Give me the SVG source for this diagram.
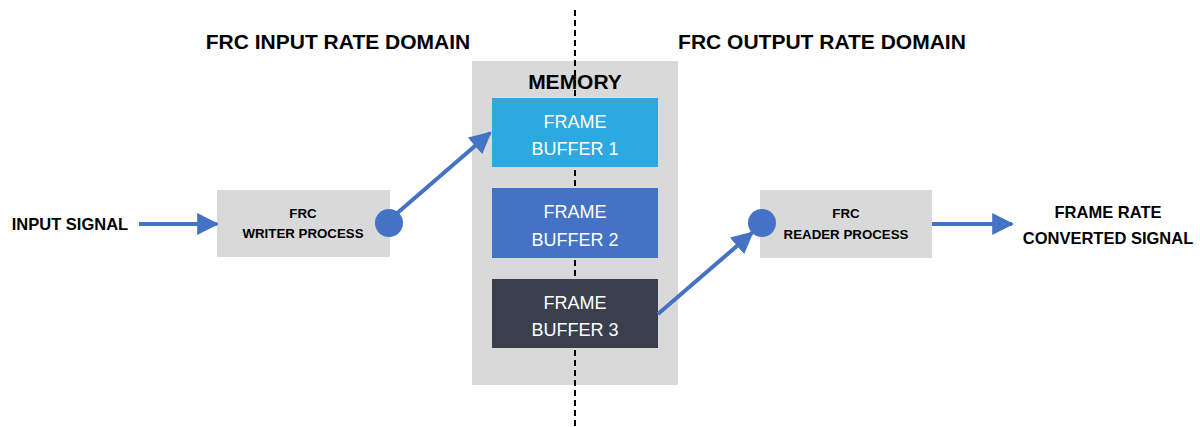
<svg xmlns="http://www.w3.org/2000/svg" width="1200" height="427" viewBox="0 0 1200 427">
<style>
.hdr{font-family:"Liberation Sans",Arial,sans-serif;font-weight:bold;font-size:21px;fill:#000;text-anchor:middle}
.lbl{font-family:"Liberation Sans",Arial,sans-serif;font-weight:bold;font-size:16.5px;fill:#000;text-anchor:middle}
.sm{font-family:"Liberation Sans",Arial,sans-serif;font-weight:bold;font-size:13.3px;fill:#000;text-anchor:middle}
.fb{font-family:"Liberation Sans",Arial,sans-serif;font-size:18px;fill:#fff;text-anchor:middle}
.gray{fill:#D9D9D9}
.conn{stroke:#4472C4;stroke-width:4;fill:none}
</style>
<defs>
<marker id="ah" viewBox="0 0 10 10" refX="9" refY="5" markerWidth="5.5" markerHeight="5.5" orient="auto" markerUnits="strokeWidth">
<path d="M0,0 L10,5 L0,10 Z" fill="#4472C4"/>
</marker>
</defs>
<rect width="1200" height="427" fill="#fff"/>
<g id="memory">
<rect class="gray" x="472" y="61" width="206" height="324"/>
<text class="hdr" x="575" y="89" font-size="24">MEMORY</text>
</g>
<line id="divider" x1="575" y1="10" x2="575" y2="427" stroke="#000" stroke-width="2" stroke-dasharray="6,4"/>
<g id="fb1">
<rect x="492" y="98" width="166" height="69" fill="#2EA9E0"/>
<text class="fb" x="575" y="128">FRAME</text>
<text class="fb" x="575" y="155">BUFFER 1</text>
</g>
<g id="fb2">
<rect x="492" y="188" width="166" height="70" fill="#4472C4"/>
<text class="fb" x="575" y="218">FRAME</text>
<text class="fb" x="575" y="246">BUFFER 2</text>
</g>
<g id="fb3">
<rect x="492" y="279" width="166" height="69" fill="#3A3F4E"/>
<text class="fb" x="575" y="309">FRAME</text>
<text class="fb" x="575" y="336">BUFFER 3</text>
</g>
<g id="headers">
<text class="hdr" x="338" y="49">FRC INPUT RATE DOMAIN</text>
<text class="hdr" x="822" y="49">FRC OUTPUT RATE DOMAIN</text>
</g>
<g id="input">
<text class="lbl" x="70" y="230">INPUT SIGNAL</text>
</g>
<g id="writer">
<rect class="gray" x="217" y="190" width="173" height="67"/>
<text class="sm" x="303" y="218">FRC</text>
<text class="sm" x="303" y="238">WRITER PROCESS</text>
<circle cx="389" cy="223" r="14" fill="#4472C4"/>
</g>
<g id="reader">
<rect class="gray" x="760" y="190" width="172" height="68"/>
<text class="sm" x="846" y="218">FRC</text>
<text class="sm" x="846" y="239">READER PROCESS</text>
<circle cx="762" cy="223" r="14" fill="#4472C4"/>
</g>
<g id="output">
<text class="lbl" x="1108" y="218">FRAME RATE</text>
<text class="lbl" x="1108" y="244">CONVERTED SIGNAL</text>
</g>
<g id="connectors">
<line class="conn" x1="139" y1="224" x2="217" y2="224" marker-end="url(#ah)"/>
<line class="conn" x1="395" y1="215" x2="490" y2="133" marker-end="url(#ah)"/>
<line class="conn" x1="658" y1="314" x2="752" y2="233" marker-end="url(#ah)"/>
<line class="conn" x1="932" y1="224" x2="1012" y2="224" marker-end="url(#ah)"/>
</g>
</svg>
